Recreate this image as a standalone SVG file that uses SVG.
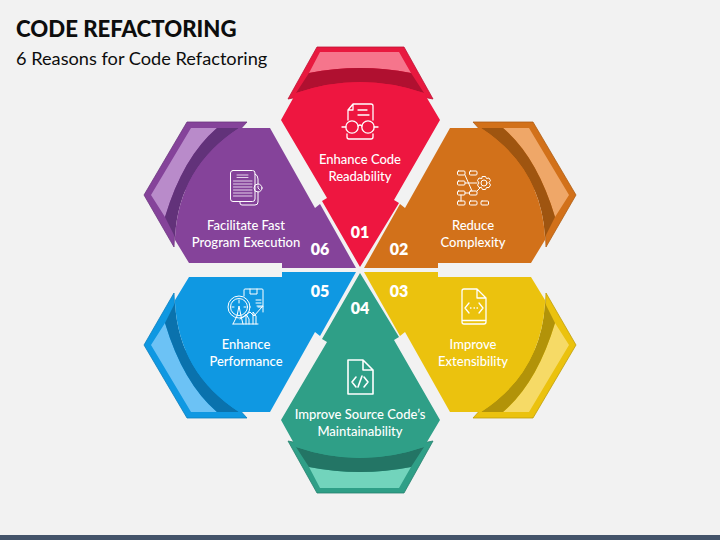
<svg xmlns="http://www.w3.org/2000/svg" width="720" height="540" viewBox="0 0 720 540">
<defs>
<style>
text{font-family:"Lato","Open Sans","Liberation Sans",sans-serif}
.title{font-size:22.2px;font-weight:900;fill:#0d0d0d}
.sub{font-size:18.2px;fill:#0d0d0d}
.lbl{font-size:13px;fill:#fff;text-anchor:middle;font-weight:500}
.num{font-size:16px;font-weight:800;fill:#fff;text-anchor:middle}
.ic{fill:none;stroke:#fff;stroke-width:1.3;stroke-linecap:round;stroke-linejoin:round}
.back{stroke-width:.8;fill:var(--b);stroke:var(--s)}
.base{fill:var(--m)}
.dark{fill:var(--d)}
.light{fill:var(--l)}
#n1{--b:#e8193f;--s:#c01335;--m:#ee1640;--d:#b01030;--l:#f6758c}
#n2{--b:#d2711a;--s:#b05e14;--m:#d2711a;--d:#9f5510;--l:#efa768}
#n3{--b:#ebc20e;--s:#c09e0a;--m:#ebc20e;--d:#b29309;--l:#f6da66}
#n4{--b:#2f9f87;--s:#26826f;--m:#2f9f87;--d:#237565;--l:#72d4bc}
#n5{--b:#0f98e2;--s:#0c7fbd;--m:#0f98e2;--d:#0a72ad;--l:#6cc2f5}
#n6{--b:#85439a;--s:#6d3680;--m:#85439a;--d:#62327a;--l:#b98bca}
</style>
<g id="shapeV">
<path class="back" d="M317,47H404L433,99L360,85L288,99Z"/>
<path class="light" d="M320,52H399L411,73Q360,63 309,73Z"/>
<path class="dark" d="M309,73Q360,63 411,73L424,93Q360,71 296,93Z"/>
<path class="base" d="M296,93Q360,71 424,93L440,120L394,200L399,203L360,267L322,201L327,198L281,120Z"/>
</g>
<g id="shapeS">
<path class="back" d="M473,122H533L576,195L546,247L544,200Z"/>
<path class="light" d="M503,128H529L569,195L555,217Q537,157 503,128Z"/>
<path class="dark" d="M481,128H503Q537,157 555,217L545,237Q541,167 481,128Z"/>
<path class="base" d="M450,128H481Q541,167 545,237V240L531,263H438V268H364L400,204L405,208Z"/>
</g>
</defs>
<rect width="720" height="540" fill="#f2f2f2"/>
<rect y="535" width="720" height="5" fill="#44546a"/>
<text class="title" x="16" y="37">CODE REFACTORING</text>
<text class="sub" x="16" y="65">6 Reasons for Code Refactoring</text>
<g id="connectors"></g>
<g id="n1">
<use href="#shapeV"/>
<g class="ic">
<path d="M348,120V110L353,104H371Q373,104 373,106V120M348,110H353V104M358,110H367M358,115H369"/>
<circle cx="352" cy="127" r="6.2"/><circle cx="368" cy="127" r="6.2"/>
<path d="M358,126Q360,124 362,126M342,127H346M374,127H378M347,134V137Q347,139 349,139H371Q373,139 373,137V134"/>
</g>
<text class="lbl" x="360" y="164">Enhance Code</text>
<text class="lbl" x="360" y="181">Readability</text>
<text class="num" x="360" y="238">01</text>
</g>
<g id="n2">
<use href="#shapeS"/>
<g class="ic" style="stroke-width:1">
<rect x="457.500" y="171" width="7.500" height="4" rx="1"/><rect x="469.500" y="171" width="7.500" height="4" rx="1"/>
<rect x="457.500" y="181" width="7.500" height="4" rx="1"/>
<rect x="457.500" y="191" width="7.500" height="4" rx="1"/><rect x="469.500" y="191" width="7.500" height="4" rx="1"/>
<rect x="457.500" y="201" width="7.500" height="4" rx="1"/><rect x="469.500" y="201" width="7.500" height="4" rx="1"/><rect x="481" y="201" width="7.500" height="4" rx="1"/>
<path d="M465,175L472,191M465,193H469.500M461,195V201M465,183H477M477,191L481,187"/>
<circle cx="484" cy="183" r="3"/>
<path d="M482.500,176.500H485.500L486.500,178.500L489,178L490.500,180.500L489,182.500L490.500,185L489,187.500L486.500,187.500L485.500,189.500H482.500L481.500,187.500L479,187.500L477.500,185L479,183L477.500,180.500L479,178L481.500,178.500Z"/>
</g>
<text class="lbl" x="473" y="230">Reduce</text>
<text class="lbl" x="473" y="247">Complexity</text>
<text class="num" x="399" y="255">02</text>
</g>
<g id="n3">
<use href="#shapeS" transform="matrix(1 0 0 -1 0 540)"/>
<g class="ic">
<path d="M477,289H464Q462,289 462,291V322Q462,324 464,324H484Q486,324 486,322V298ZM477,289V298H486M462,320.500H486M469,303L465,308L469,313M479,303L483,308L479,313M470.500,308H471M474,308H474.500M477,308H477.500"/>
</g>
<text class="lbl" x="473" y="349">Improve</text>
<text class="lbl" x="473" y="366">Extensibility</text>
<text class="num" x="399" y="297">03</text>
</g>
<g id="n4">
<use href="#shapeV" transform="matrix(1 0 0 -1 0 540)"/>
<g class="ic" style="stroke-width:1.6">
<path d="M363,360H348V394H373V370ZM363,360V370H373M352,382L356,377M352,382L356,387M368,382L364,377M368,382L364,387M362,376L358,387"/>
</g>
<text class="lbl" x="360" y="419">Improve Source Code’s</text>
<text class="lbl" x="360" y="436">Maintainability</text>
<text class="num" x="360" y="314">04</text>
</g>
<g id="n5">
<use href="#shapeS" transform="rotate(180 360 270)"/>
<g class="ic" style="stroke-width:1">
<circle cx="239" cy="307" r="11"/><circle cx="239" cy="307" r="8.500"/>
<path d="M244,296V290Q244,289 245,289H262Q263,289 263,290V306Q263,307 262,307H258M250,289V294H257V289M256,300H261M256,303H261M239,300V303M232,307H234M244,307H246"/>
<path d="M233,324L237,316L239,306L241,316L243,324M233,324H258M246,324V314L249,319V324M253,324V312L256,316V324M240,319L250,312L254,316L262,307M257,306H263V312"/>
</g>
<text class="lbl" x="246" y="349">Enhance</text>
<text class="lbl" x="246" y="366">Performance</text>
<text class="num" x="320" y="297">05</text>
</g>
<g id="n6">
<use href="#shapeS" transform="matrix(-1 0 0 1 720 0)"/>
<g class="ic" style="stroke-width:1">
<rect x="230.500" y="170.500" width="24.500" height="31" rx="2.500"/>
<path d="M240,202V203Q240,205 242,205H255Q258,205 258,202V192M255,174Q258,175 258,179V184"/>
<circle cx="258" cy="188" r="4"/><path d="M258,186V188L259.500,189.500"/>
<path d="M237,175H248M237,177.500H248M233.500,181H252M233.500,184H252M233.500,187H252M233.500,190H252M233.500,193H252M233.500,196H252" style="stroke:#e4d2ea"/>
</g>
<text class="lbl" x="246" y="230">Facilitate Fast</text>
<text class="lbl" x="246" y="247">Program Execution</text>
<text class="num" x="320" y="255">06</text>
</g>
</svg>
